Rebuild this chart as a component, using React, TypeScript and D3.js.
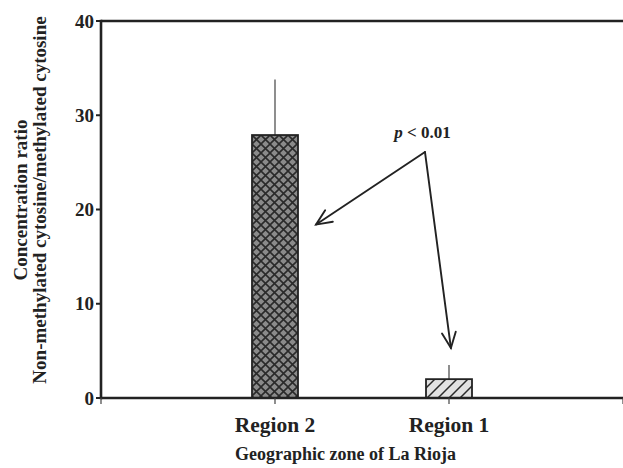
import React from 'react';
import * as d3 from 'd3';

// category slots along the x axis (empty slots at each end, as in the original)
const slots = ['', 'Region 2', 'Region 1', ' '];
const regions = ['Region 2', 'Region 1'];
const ratioMean = [27.9, 2.0];
const ratioError = [5.9, 1.5];
const yTicks = [0, 10, 20, 30, 40];

// significance annotation (x in slot units, y in data units)
const pLabel = { x: 1.848, y: 27.6 };
const arrowApex = { x: 1.862, y: 26.1 };
const arrowTips = [
  { x: 1.236, y: 18.4 },
  { x: 2.011, y: 5.3 },
];

const W = 623;
const H = 468;
const margin = { left: 101, right: 0, top: 21, bottom: 70 };
const FONT = "'Liberation Serif', 'Times New Roman', serif";

const App = () => {
  const x = d3
    .scaleLinear()
    .domain([0, slots.length - 1])
    .range([margin.left, W - margin.right]);
  const y = d3
    .scaleLinear()
    .domain([0, 40])
    .range([H - margin.bottom, margin.top]);

  const barW = 46;
  const y0 = y(0);
  const patterns = ['url(#crosshatch)', 'url(#diag)'];

  const headLen = 17;
  const headAng = 0.42;
  const arrowHead = (tip: { x: number; y: number }) => {
    const ax = x(arrowApex.x);
    const ay = y(arrowApex.y);
    const tx = x(tip.x);
    const ty = y(tip.y);
    const ang = Math.atan2(ay - ty, ax - tx);
    const p1 = [tx + headLen * Math.cos(ang + headAng), ty + headLen * Math.sin(ang + headAng)];
    const p2 = [tx + headLen * Math.cos(ang - headAng), ty + headLen * Math.sin(ang - headAng)];
    return `M${p1[0]},${p1[1]}L${tx},${ty}L${p2[0]},${p2[1]}`;
  };

  return (
    <div style={{ position: 'absolute', left: 0, top: 0 }}>
      <svg width={W} height={H} style={{ display: 'block', background: '#fff' }}>
        <defs>
          <pattern id="crosshatch" width={9} height={9} patternUnits="userSpaceOnUse">
            <rect width={9} height={9} fill="#8a8a8a" />
            <path d="M0,0L9,9M9,0L0,9" stroke="#2a2a2a" strokeWidth={1.6} />
            <path d="M-1,8L1,10M8,-1L10,1M-1,1L1,-1M8,10L10,8" stroke="#2a2a2a" strokeWidth={1.6} />
          </pattern>
          <pattern id="diag" width={11} height={11} patternUnits="userSpaceOnUse">
            <rect width={11} height={11} fill="#e2e2e2" />
            <path d="M0,11L11,0M-3,3L3,-3M8,14L14,8" stroke="#2a2a2a" strokeWidth={1.5} />
          </pattern>
        </defs>

        {/* error bars */}
        {regions.map((r, i) => {
          const cx = x(slots.indexOf(r));
          return (
            <line
              key={`e${r}`}
              x1={cx}
              x2={cx}
              y1={y(ratioMean[i])}
              y2={y(ratioMean[i] + ratioError[i])}
              stroke="#444"
              strokeWidth={1.2}
            />
          );
        })}

        {/* bars */}
        {regions.map((r, i) => {
          const cx = x(slots.indexOf(r));
          return (
            <rect
              key={r}
              x={cx - barW / 2}
              y={y(ratioMean[i])}
              width={barW}
              height={y0 - y(ratioMean[i])}
              fill={patterns[i]}
              stroke="#222"
              strokeWidth={1.8}
            />
          );
        })}

        {/* frame: top line, left axis, bottom axis */}
        <line x1={margin.left} x2={W} y1={y(40)} y2={y(40)} stroke="#222" strokeWidth={2.6} />
        <line x1={margin.left} x2={margin.left} y1={y(40) - 1.3} y2={y0 + 1.3} stroke="#222" strokeWidth={2.6} />
        <line x1={margin.left} x2={W} y1={y0} y2={y0} stroke="#222" strokeWidth={2.6} />

        {/* y ticks */}
        {yTicks.map((t) => (
          <g key={t} transform={`translate(${margin.left},${y(t)})`}>
            <line x1={-5} x2={0} stroke="#222" strokeWidth={2} />
            <text
              x={-7}
              dy="0.35em"
              textAnchor="end"
              fontFamily={FONT}
              fontWeight="bold"
              fontSize={19}
              fill="#222"
            >
              {t}
            </text>
          </g>
        ))}

        {/* x ticks */}
        {slots.map((s, i) => (
          <line key={`xt${i}`} x1={x(i)} x2={x(i)} y1={y0} y2={y0 + 6} stroke="#444" strokeWidth={1.2} />
        ))}
        {regions.map((r) => (
          <text
            key={`xl${r}`}
            x={x(slots.indexOf(r))}
            y={432}
            textAnchor="middle"
            fontFamily={FONT}
            fontWeight="bold"
            fontSize={21.5}
            fill="#222"
          >
            {r}
          </text>
        ))}

        <text
          x={x(1.405)}
          y={460}
          textAnchor="middle"
          fontFamily={FONT}
          fontWeight="bold"
          fontSize={18}
          fill="#222"
        >
          Geographic zone of La Rioja
        </text>

        <g transform="translate(0,200) rotate(-90)">
          <text x={0} y={27} textAnchor="middle" fontFamily={FONT} fontWeight="bold" fontSize={19} fill="#222">
            Concentration ratio
          </text>
          <text x={0} y={46} textAnchor="middle" fontFamily={FONT} fontWeight="bold" fontSize={19} fill="#222">
            Non-methylated cytosine/methylated cytosine
          </text>
        </g>

        {/* significance annotation */}
        <text
          x={x(pLabel.x)}
          y={y(pLabel.y)}
          textAnchor="middle"
          fontFamily={FONT}
          fontWeight="bold"
          fontSize={17}
          fill="#222"
        >
          <tspan fontStyle="italic">p</tspan> &lt; 0.01
        </text>
        {arrowTips.map((tip, i) => (
          <g key={`a${i}`} fill="none" stroke="#222" strokeWidth={1.9} strokeLinecap="round">
            <line x1={x(arrowApex.x)} y1={y(arrowApex.y)} x2={x(tip.x)} y2={y(tip.y)} />
            <path d={arrowHead(tip)} />
          </g>
        ))}
      </svg>
    </div>
  );
};

export default App;
